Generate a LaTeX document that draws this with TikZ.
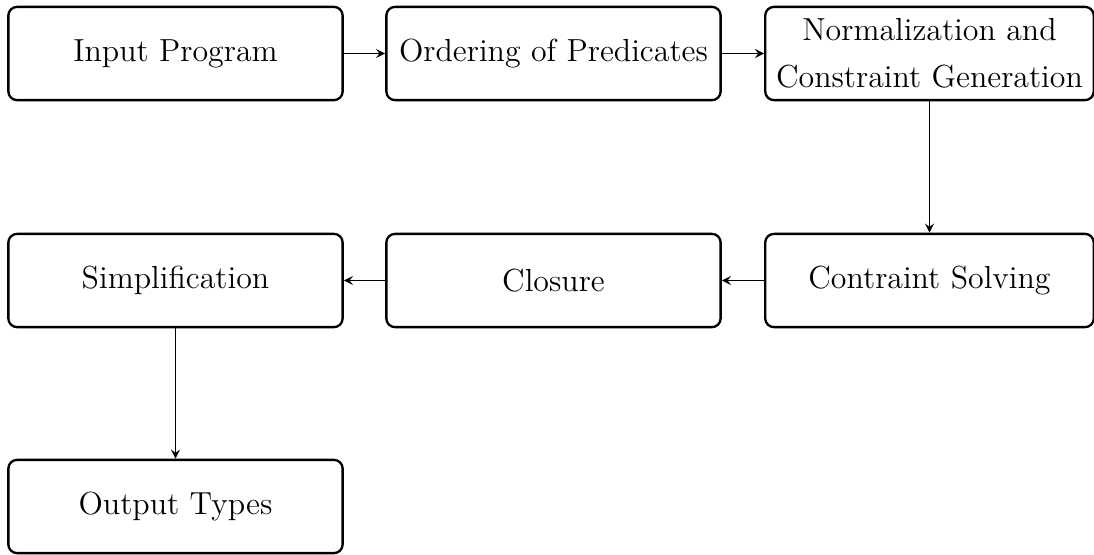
\documentclass[tikz,border=0pt]{standalone}
\usepackage{amsmath,amssymb}
\usetikzlibrary{arrows,calc}
\tikzset{stage/.style={draw, thick, rounded corners=3pt, align=center,
    font=\fontsize{11}{16.2}\selectfont, inner sep=2pt,
    minimum width=4.05cm, minimum height=1.13cm}}

\begin{document}
\begin{tikzpicture}[x=0.012121cm,y=-0.012121cm]
      \useasboundingbox (0,0) rectangle (1094,554);
      \node[stage] (inp) at (175.5,53.5) {Input Program};
      \node[stage] (ord) at (553.5,53.5) {Ordering of Predicates};
      \node[stage, minimum width=3.98cm] (norm) at (929.5,53.5) {Normalization and\\ Constraint Generation};
      \node[stage] (simp) at (175.5,280.5) {Simplification};
      \node[stage] (clos) at (553.5,280.5) {Closure};
      \node[stage, minimum width=3.98cm] (solv) at (929.5,280.5) {Contraint Solving};
      \node[stage] (out) at (175.5,506.5) {Output Types};
      \path[-stealth, thin] (inp) edge (ord);
      \path[-stealth, thin] (ord) edge (norm);
      \path[-stealth, thin] (norm) edge (solv);
      \path[-stealth, thin] (solv) edge (clos);
      \path[-stealth, thin] (clos) edge (simp);
      \path[-stealth, thin] (simp) edge (out);
    \end{tikzpicture}
\end{document}
